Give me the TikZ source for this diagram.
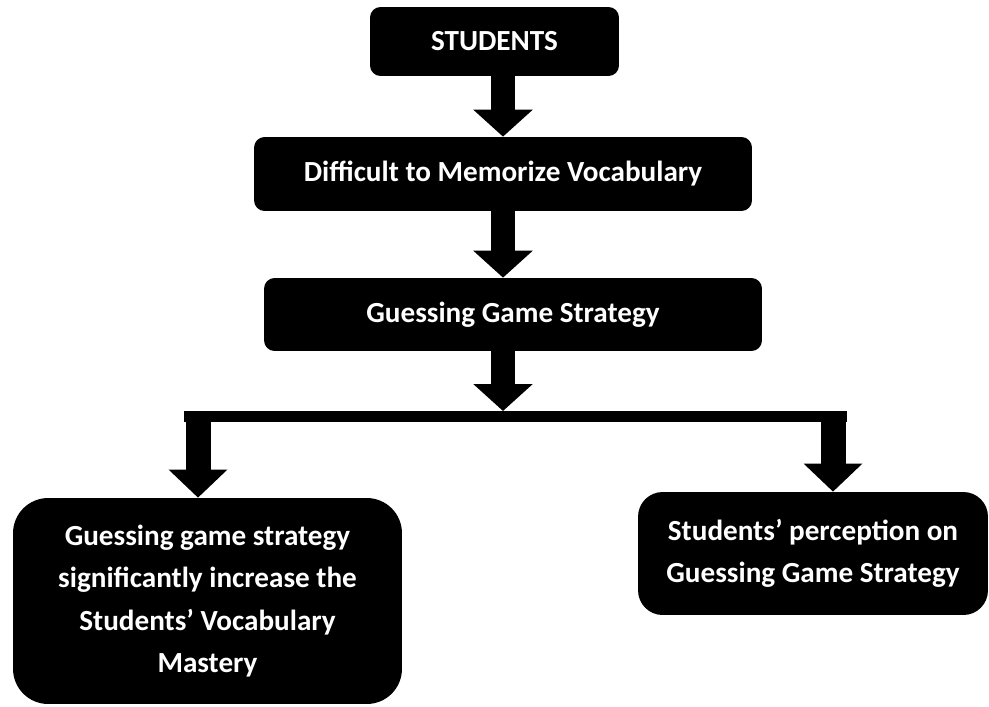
\documentclass[tikz,border=0pt]{standalone}
\usepackage{fontspec}
\setmainfont{Carlito}
\usepackage{tikz}
\usetikzlibrary{arrows.meta, shapes, positioning}

\begin{document}
\begin{tikzpicture}[x=0.02cm, y=-0.02cm,
  stage/.style={rectangle, fill=black, text=white, rounded corners=6pt, align=center,
                inner sep=0pt, font=\fontsize{16.6}{24}\selectfont\bfseries},
  flow/.style={line width=0.48cm, -{Triangle[width=1.16cm, length=0.54cm]}},
  drop/.style={line width=0.5cm, -{Triangle[width=1.14cm, length=0.56cm]}},
  bar/.style={line width=0.22cm}
]
\useasboundingbox (0,0) rectangle (989,706);
\node[stage, minimum width=4.98cm, minimum height=1.38cm] (students)   at (494.5,41.5) {STUDENTS};
\node[stage, minimum width=9.96cm, minimum height=1.48cm] (difficult)  at (503,174)    {Difficult to Memorize Vocabulary};
\node[stage, minimum width=9.96cm, minimum height=1.46cm] (guessing)   at (513,314.5)  {Guessing Game Strategy};
\node[stage, minimum width=7.78cm, minimum height=4.12cm, rounded corners=20pt] (increase) at (207.5,601)
  {Guessing game strategy\\significantly increase the\\Students’ Vocabulary\\Mastery};
\node[stage, minimum width=7.0cm, minimum height=2.46cm, rounded corners=14pt] (perception) at (813,553.5)
  {Students’ perception on\\Guessing Game Strategy};

% branch bar
\coordinate (barL)  at (184,416.5);
\coordinate (barR)  at (847,416.5);
\coordinate (split) at (503,411);
\coordinate (dropL) at (198,411);
\coordinate (dropR) at (833,411);
\draw[bar] (barL) -- (barR);

\draw[flow] (students.south -| difficult) -- (difficult.north);
\draw[flow] (difficult.south) -- (guessing.north -| difficult);
\draw[flow] (guessing.south -| split) -- (split);
\draw[drop] (dropL) -- (dropL |- increase.north);
\draw[drop] (dropR) -- (dropR |- perception.north);
\end{tikzpicture}
\end{document}
